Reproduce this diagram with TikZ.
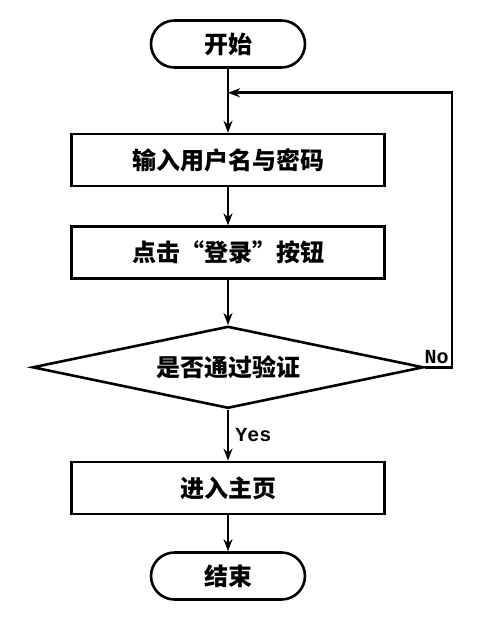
\documentclass[tikz,border=0pt]{standalone}
\usepackage{fontspec}
\setmainfont{Noto Sans CJK SC}
\newfontfamily\latinfont{Liberation Mono}
\usetikzlibrary{positioning,arrows.meta,shapes.geometric}

\begin{document}
\begin{tikzpicture}
    [line width=2.6pt, font=\bfseries\fontsize{24}{28}\selectfont,
     >={Stealth[length=12pt,width=9pt]},
     term/.style={rectangle,rounded corners=23.5pt,draw,minimum width=154pt,minimum height=47pt},
     box/.style={rectangle,draw,minimum width=313pt,minimum height=52pt},
     check/.style={diamond,draw,aspect=4.6,inner sep=0pt,minimum width=391pt,minimum height=82pt},
     tag/.style={font=\latinfont\bfseries\fontsize{20}{23}\selectfont,inner sep=2pt}]
    \useasboundingbox (0,0) rectangle (488pt,-628pt);
    \node[term] (start) at (228pt,-44pt) {开始};
    \coordinate[below=24pt of start] (join);
    \node[box] (input) [below=64pt of start] {输入用户名与密码};
    \node[box] (login) [below=38pt of input] {点击“登录”按钮}
      edge [<-] (input);
    \node[check] (verify) [below=45pt of login] {是否通过验证}
      edge [<-] (login);
    \node[box] (home) [below=51pt of verify] {进入主页}
      edge [<-] node [tag,right=4pt] {Yes} (verify);
    \node[term] (finish) [below=36pt of home] {结束}
      edge [<-] (home);

    \draw (start) -- (join);
    \draw[->] (join) -- (input);
    % back to the input box
    \draw[->] (verify.east) -- ++(27pt,0) coordinate (turn) |- (join);
    \node[tag,anchor=south east] (no) at (turn) {No};
\end{tikzpicture}
\end{document}
